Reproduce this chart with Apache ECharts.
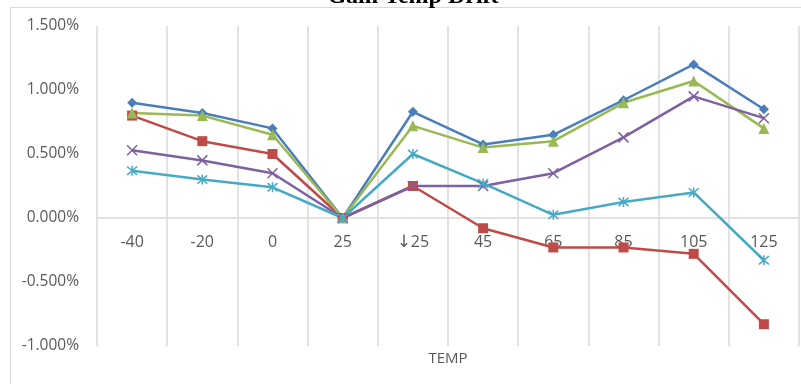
<!DOCTYPE html>
<html>
<head>
<meta charset="utf-8">
<script src="https://cdn.jsdelivr.net/npm/echarts@6/dist/echarts.min.js"></script>
<style>
html,body{margin:0;padding:0;background:#fff;}
#chart{width:801px;height:384px;}
</style>
</head>
<body>
<div id="chart"></div>
<script>
var categories = ['-40', '-20', '0', '25', '\u219325', '45', '65', '85', '105', '125'];
var seriesBlue   = [0.90, 0.82, 0.70, 0.00, 0.83, 0.575, 0.65, 0.92, 1.20, 0.85];
var seriesRed    = [0.80, 0.60, 0.50, 0.00, 0.25, -0.08, -0.23, -0.23, -0.28, -0.83];
var seriesGreen  = [0.82, 0.80, 0.65, 0.00, 0.72, 0.55, 0.60, 0.90, 1.07, 0.70];
var seriesPurple = [0.53, 0.45, 0.35, 0.00, 0.25, 0.25, 0.35, 0.63, 0.95, 0.78];
var seriesCyan   = [0.37, 0.30, 0.24, 0.00, 0.50, 0.27, 0.025, 0.125, 0.20, -0.33];
var yTicks = { min: -1, max: 1.5, interval: 0.5 };
var titleText = 'Gain Temp Drift';
var axisName = 'TEMP';

var labelColor = '#595959';
var gridColor = '#d9d9d9';

function mk(name, data, color, symbol, size, stroke) {
  var s = {
    name: name, type: 'line', data: data,
    symbol: symbol, symbolSize: size,
    lineStyle: { color: color, width: 2.5 },
    itemStyle: { color: color },
    z: 3
  };
  if (stroke) {
    s.itemStyle = { color: 'rgba(0,0,0,0)', borderColor: color, borderWidth: 1.5 };
  }
  return s;
}

var chart = echarts.init(document.getElementById('chart'));
var option = {
  animation: false,
  backgroundColor: '#fff',
  graphic: [
    { type: 'rect', shape: { x: 10.5, y: 7.5, width: 820, height: 400 },
      style: { fill: 'none', stroke: gridColor, lineWidth: 1 }, silent: true, z: -1 },
    { type: 'text', x: 413, y: 9,
      style: { text: titleText, font: 'bold 24px "Liberation Serif"', fill: '#000', align: 'center', verticalAlign: 'bottom' } },
    { type: 'text', x: 448, y: 359,
      style: { text: axisName, font: '15px "Open Sans"', fill: labelColor, align: 'center', verticalAlign: 'middle' } }
  ],
  grid: { left: 97, right: 2, top: 26, bottom: 38, containLabel: false, outerBoundsMode: 'none' },
  xAxis: {
    type: 'category', data: categories, boundaryGap: true, offset: 0,
    axisLine: { onZero: true, lineStyle: { color: gridColor, width: 1.5 } },
    axisTick: { show: false },
    axisLabel: { color: labelColor, fontFamily: 'Open Sans', fontSize: 16, margin: 16, interval: 0,
      formatter: function (v) {
        if (v.charAt(0) === '\u2193') return '{a|\u2193}' + v.slice(1);
        return v;
      },
      rich: { a: { fontFamily: 'DejaVu Sans', fontSize: 17, color: labelColor } } },
    splitLine: { show: true, lineStyle: { color: gridColor, width: 1.5 } }
  },
  yAxis: {
    type: 'value', min: yTicks.min, max: yTicks.max, interval: yTicks.interval,
    axisLine: { show: false }, axisTick: { show: false },
    splitLine: { show: false },
    axisLabel: { color: labelColor, fontFamily: 'Open Sans', fontSize: 15.5, margin: 18,
      formatter: function (v) { return v.toFixed(3) + '%'; } }
  },
  series: [
    mk('S1', seriesBlue, '#4A7EBB', 'diamond', 10),
    mk('S2', seriesRed, '#BE4B48', 'rect', 10),
    mk('S3', seriesGreen, '#98B954', 'triangle', 11),
    mk('S4', seriesPurple, '#7D60A0', 'path://M0,0L10,10M10,0L0,10', 10, true),
    mk('S5', seriesCyan, '#46AAC5', 'path://M0,0L10,10M10,0L0,10M5,-1L5,11', 10, true)
  ]
};
chart.setOption(option);
// Place the category axis on the zero line of the value axis
var zeroY = chart.convertToPixel({ yAxisIndex: 0 }, 0);
var bottomY = chart.convertToPixel({ yAxisIndex: 0 }, yTicks.min);
chart.setOption({ xAxis: { offset: -(bottomY - zeroY) } });
</script>
</body>
</html>
